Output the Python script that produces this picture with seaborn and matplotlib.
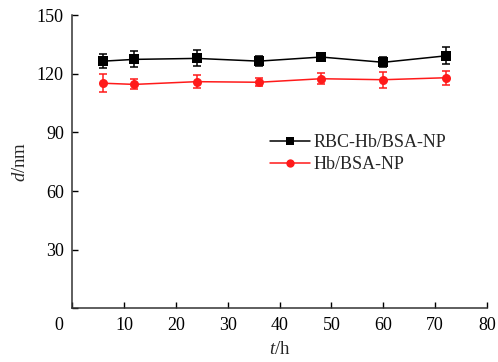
import matplotlib
matplotlib.use("Agg")
import matplotlib.pyplot as plt
import matplotlib.transforms as mtransforms
import seaborn as sns
import pandas as pd

t_hours = [6, 12, 24, 36, 48, 60, 72]
rbc_d = [126.5, 127.4, 127.9, 126.5, 128.6, 125.9, 129.2]
rbc_err = [3.7, 4.1, 4.1, 2.4, 2.0, 2.6, 4.4]
np_d = [115.2, 114.6, 116.0, 115.7, 117.5, 117.0, 118.0]
np_err = [4.6, 2.6, 3.2, 2.0, 2.9, 4.1, 3.6]
series_names = ["RBC-Hb/BSA-NP", "Hb/BSA-NP"]
x_ticks = [0, 10, 20, 30, 40, 50, 60, 70, 80]
y_ticks = [0, 30, 60, 90, 120, 150]

sns.set_theme(style="ticks")
plt.rcParams["font.family"] = ["Liberation Serif", "DejaVu Serif"]
plt.rcParams["mathtext.fontset"] = "custom"
plt.rcParams["mathtext.it"] = "Liberation Serif:italic"
plt.rcParams["mathtext.rm"] = "Liberation Serif"

df = pd.DataFrame({
    "t": t_hours * 2,
    "d": rbc_d + np_d,
    "err": rbc_err + np_err,
    "series": [series_names[0]] * len(t_hours) + [series_names[1]] * len(t_hours),
})

fig, ax = plt.subplots(figsize=(4.98, 3.62), dpi=100)
fig.subplots_adjust(left=0.145, right=0.978, top=0.958, bottom=0.148)

palette = {series_names[0]: "black", series_names[1]: "#ff1a1a"}
markers = {series_names[0]: "s", series_names[1]: "o"}
sns.lineplot(data=df, x="t", y="d", hue="series", style="series", palette=palette,
             markers=markers, dashes=False, markersize=6.5, markeredgewidth=0,
             linewidth=1.1, ax=ax)
for name in series_names:
    sub = df[df["series"] == name]
    ax.errorbar(sub["t"], sub["d"], yerr=sub["err"], fmt="none", ecolor=palette[name],
                elinewidth=1.1, capsize=3, capthick=1.1, zorder=1)

ax.set_xlim(0, 80)
ax.set_ylim(0, 150)
ax.set_xticks(x_ticks)
ax.set_yticks(y_ticks)
ax.set_xticklabels([str(v) for v in x_ticks])
ax.set_yticklabels([""] + [str(v) for v in y_ticks[1:]])
ax.tick_params(direction="in", length=4, width=1, labelsize=13, colors="black", pad=6)
lab0 = ax.get_xticklabels()[0]
lab0.set_transform(lab0.get_transform() + mtransforms.ScaledTranslation(-13 / 100, 0, fig.dpi_scale_trans))
for s in ["top", "right"]:
    ax.spines[s].set_visible(False)
for s in ["left", "bottom"]:
    ax.spines[s].set_color("#333333")
    ax.spines[s].set_linewidth(1.1)

ax.set_xlabel("$t$/h", fontsize=13.5, labelpad=5)
ax.set_ylabel("$d$/nm", fontsize=13.5, labelpad=6)

leg = ax.legend(loc="upper left", bbox_to_anchor=(0.46, 0.62), frameon=False,
                fontsize=13, handlelength=2.2, handletextpad=0.2, labelspacing=0.3,
                borderaxespad=0)
for h in leg.legend_handles:
    h.set_markersize(6)

fig.savefig("out.png", dpi=100)
